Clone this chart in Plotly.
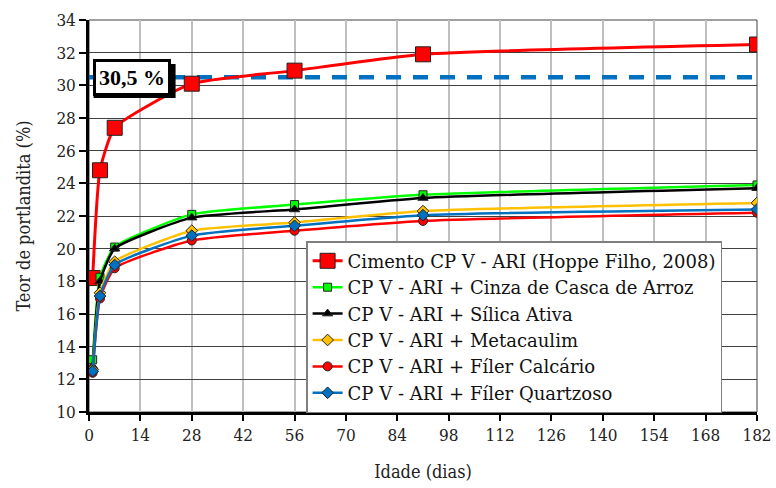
import plotly.graph_objects as go

# Ages (days) and portlandite content (%) for each binder
idade = [1, 3, 7, 28, 56, 91, 182]

cp_v_ari = [18.2, 24.8, 27.4, 30.1, 30.9, 31.9, 32.5]
cinza_casca_arroz = [13.2, 18.25, 20.1, 22.1, 22.7, 23.3, 23.9]
silica_ativa = [12.8, 18.0, 20.0, 21.9, 22.4, 23.1, 23.7]
metacaulim = [12.6, 17.3, 19.2, 21.1, 21.6, 22.3, 22.8]
filer_calcario = [12.4, 16.95, 18.8, 20.5, 21.1, 21.7, 22.2]
filer_quartzoso = [12.5, 17.1, 19.0, 20.8, 21.4, 22.05, 22.4]

nivel_referencia = 30.5
x_limites = [0, 182]
x_ticks = list(range(0, 183, 14))
y_ticks = list(range(10, 35, 2))

FONT = "DejaVu Serif Condensed, DejaVu Serif"
FONT_LEGEND = "DejaVu Serif"
FONT_BOLD = "Liberation Serif"

series = [
    ("Cimento CP V - ARI (Hoppe Filho, 2008)", cp_v_ari, "#FF0000", "square", 15, 3),
    ("CP V - ARI + Cinza de Casca de Arroz", cinza_casca_arroz, "#00FF00", "square", 8, 2.5),
    ("CP V - ARI + Sílica Ativa", silica_ativa, "#000000", "triangle-up", 9, 2.5),
    ("CP V - ARI + Metacaulim", metacaulim, "#FFC000", "diamond", 9, 2.5),
    ("CP V - ARI + Fíler Calcário", filer_calcario, "#FF0000", "circle", 9, 2.5),
    ("CP V - ARI + Fíler Quartzoso", filer_quartzoso, "#0070C0", "diamond", 9, 2.5),
]

fig = go.Figure()

# horizontal reference level
fig.add_trace(go.Scatter(
    x=x_limites, y=[nivel_referencia, nivel_referencia], mode="lines",
    line=dict(color="#0070C0", width=4.5, dash="15px,12px"),
    showlegend=False, hoverinfo="skip",
))

for nome, valores, cor, simbolo, tamanho, largura in series:
    fig.add_trace(go.Scatter(
        x=idade, y=valores, name=nome, mode="lines+markers",
        line=dict(color=cor, width=largura, shape="spline", smoothing=0.5),
        marker=dict(symbol=simbolo, size=tamanho, color=cor,
                    line=dict(color="#222222", width=1)),
    ))

# boxed label for the reference level, with a drop shadow behind it
label_x, label_y = 11.6, 30.45
fig.add_shape(
    type="rect", xref="x", yref="y", xsizemode="pixel", ysizemode="pixel",
    xanchor=label_x, yanchor=label_y, x0=-38, x1=44, y0=-20, y1=14,
    fillcolor="#000000", line=dict(width=0), layer="above",
)
fig.add_annotation(
    x=label_x, y=label_y, xref="x", yref="y", text="<b>30,5 %</b>", showarrow=False,
    font=dict(family=FONT_BOLD, size=22, color="#000000"),
    bgcolor="#FFFFFF", bordercolor="#000000", borderwidth=3, borderpad=3,
)

fig.update_layout(
    width=776, height=488,
    margin=dict(l=89, r=19, t=20, b=76, autoexpand=False),
    paper_bgcolor="#FFFFFF", plot_bgcolor="#FFFFFF",
    font=dict(family=FONT, size=17, color="#222222"),
    legend=dict(
        x=0.325, y=0.436, xanchor="left", yanchor="top",
        bgcolor="#FFFFFF", bordercolor="#7F7F7F", borderwidth=1.5,
        font=dict(family=FONT_LEGEND, size=18, color="#111111"),
        tracegroupgap=0, itemwidth=30,
    ),
)

fig.update_xaxes(
    range=x_limites, tickvals=x_ticks, ticks="outside", ticklen=6,
    tickwidth=2, tickcolor="#000000",
    tickfont=dict(family=FONT, size=17),
    showline=True, linecolor="#000000", linewidth=2.5,
    showgrid=True, gridcolor="#BFBFBF", gridwidth=1.5,
    mirror=False, zeroline=False, automargin=False,
    title=dict(text="Idade (dias)", font=dict(family=FONT, size=18), standoff=22),
)
fig.update_yaxes(
    range=[10, 34], tickvals=y_ticks, ticks="outside", ticklen=7,
    tickwidth=2, tickcolor="#000000",
    tickfont=dict(family=FONT, size=17),
    showline=True, linecolor="#000000", linewidth=2.5,
    showgrid=True, gridcolor="#404040", gridwidth=1,
    zeroline=False, automargin=False,
    title=dict(text="Teor de portlandita (%)", font=dict(family=FONT, size=18), standoff=22),
)

# thin frame on the top and right sides
fig.add_shape(type="rect", xref="paper", yref="paper", x0=0, y0=0, x1=1, y1=1,
              line=dict(color="#404040", width=1), layer="below")

fig.write_html("out.html")
